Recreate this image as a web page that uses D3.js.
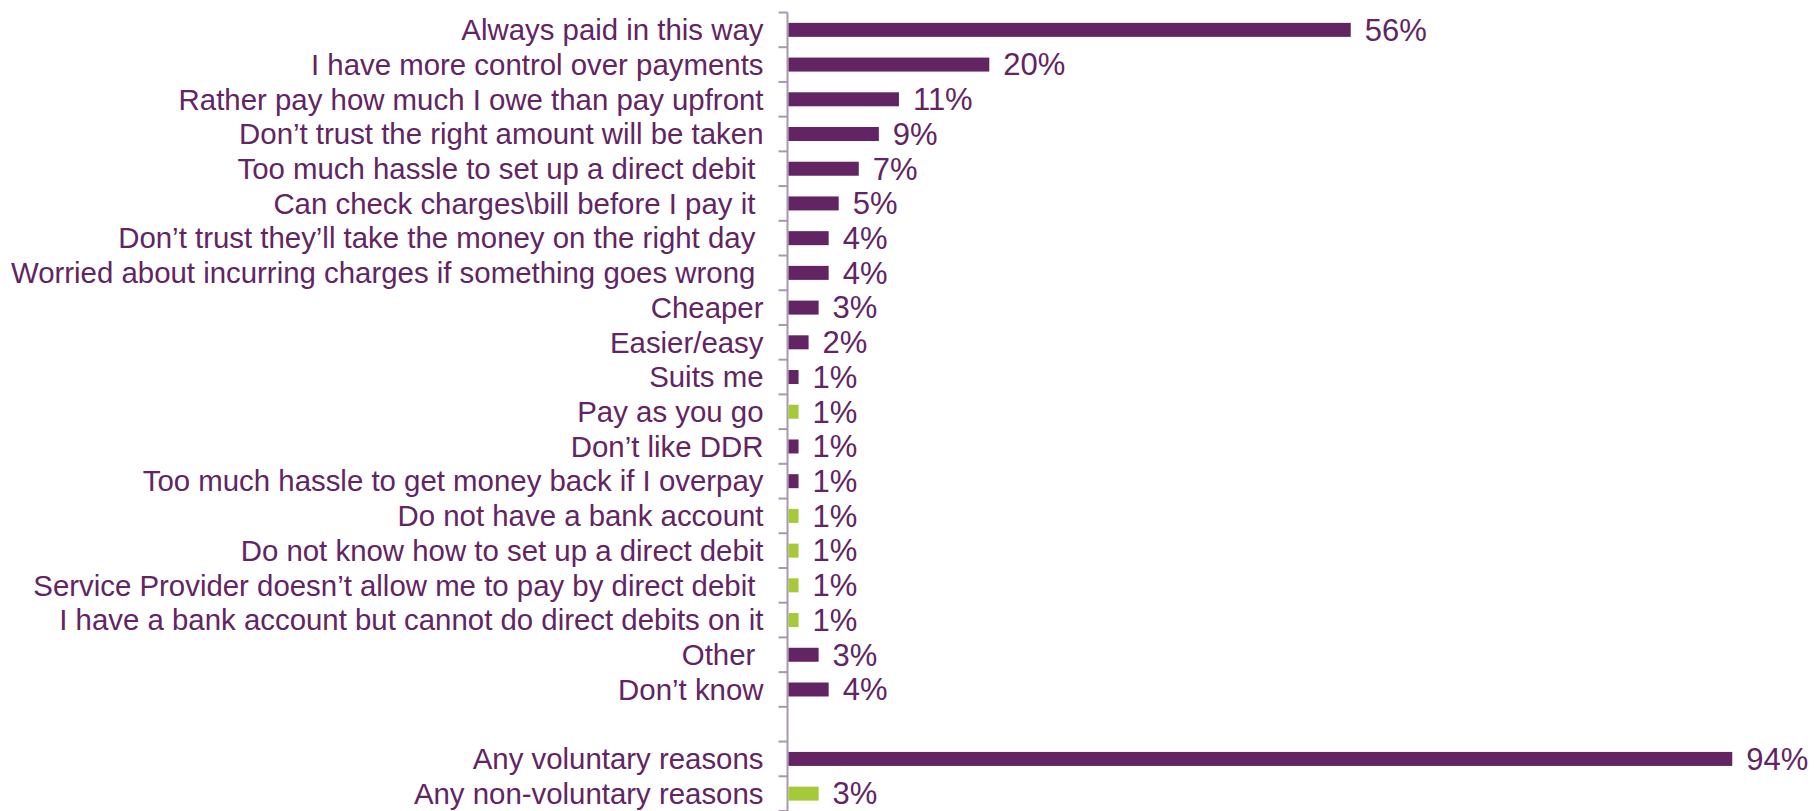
<!DOCTYPE html>
<html>
<head>
<meta charset="utf-8">
<script src="https://cdn.jsdelivr.net/npm/d3@7"></script>
<style>
  html, body { margin: 0; padding: 0; background: #ffffff; }
  svg text { font-family: "Liberation Sans", Arial, sans-serif; white-space: pre; }
</style>
</head>
<body>
<svg id="chart" width="1814" height="811"></svg>
<script>
// Reasons for not paying by direct debit (% of respondents)
const categories = [
  "Always paid in this way",
  "I have more control over payments",
  "Rather pay how much I owe than pay upfront",
  "Don\u2019t trust the right amount will be taken",
  "Too much hassle to set up a direct debit ",
  "Can check charges\\bill before I pay it ",
  "Don\u2019t trust they\u2019ll take the money on the right day ",
  "Worried about incurring charges if something goes wrong ",
  "Cheaper",
  "Easier/easy",
  "Suits me",
  "Pay as you go",
  "Don\u2019t like DDR",
  "Too much hassle to get money back if I overpay",
  "Do not have a bank account",
  "Do not know how to set up a direct debit",
  "Service Provider doesn\u2019t allow me to pay by direct debit ",
  "I have a bank account but cannot do direct debits on it",
  "Other ",
  "Don\u2019t know",
  "",
  "Any voluntary reasons",
  "Any non-voluntary reasons"
];
const values = [56, 20, 11, 9, 7, 5, 4, 4, 3, 2, 1, 1, 1, 1, 1, 1, 1, 1, 3, 4, null, 94, 3];
// "v" = voluntary reason, "n" = non-voluntary reason
const reasonType = ["v","v","v","v","v","v","v","v","v","v","v","n","v","v","n","n","n","n","v","v","", "v","n"];

const purple = "#622462";
const green = "#a6c93a";
const axisColor = "#a898b0";
const labelSize = 29.4;
const valueSize = 31;

const svg = d3.select("#chart");
const axisX = 787.5;

// one slot per row; ticks sit on slot boundaries
const y = d3.scaleBand()
  .domain(d3.range(categories.length))
  .range([12.5, 811])
  .padding(0);

const x = d3.scaleLinear().domain([0, 100]).range([axisX + 1, axisX + 1 + 1004]);

const barH = 14;
const slotCenter = i => y(i) + y.bandwidth() / 2;
const boundaries = d3.range(categories.length + 1).map(i => 12.5 + i * y.step());

svg.append("line")
  .attr("x1", axisX).attr("x2", axisX)
  .attr("y1", 12.5).attr("y2", 811)
  .attr("stroke", axisColor).attr("stroke-width", 2);

svg.selectAll("line.tick")
  .data(boundaries)
  .join("line")
  .attr("class", "tick")
  .attr("x1", axisX - 9).attr("x2", axisX)
  .attr("y1", d => d).attr("y2", d => d)
  .attr("stroke", axisColor).attr("stroke-width", 2);

const rows = d3.range(categories.length);

// category labels
svg.selectAll("text.cat")
  .data(rows)
  .join("text")
  .attr("class", "cat")
  .attr("x", axisX - 24)
  .attr("y", i => slotCenter(i))
  .attr("dy", "0.35em")
  .attr("text-anchor", "end")
  .attr("font-size", labelSize)
  .attr("fill", purple)
  .text(i => categories[i]);

const barRows = rows.filter(i => values[i] != null);

// bars
svg.selectAll("rect.bar")
  .data(barRows)
  .join("rect")
  .attr("class", "bar")
  .attr("x", x(0))
  .attr("y", i => slotCenter(i) - barH / 2)
  .attr("width", i => x(values[i]) - x(0))
  .attr("height", barH)
  .attr("fill", i => reasonType[i] === "n" ? green : purple);

// value labels
svg.selectAll("text.val")
  .data(barRows)
  .join("text")
  .attr("class", "val")
  .attr("x", i => x(values[i]) + 14)
  .attr("y", i => slotCenter(i))
  .attr("dy", "0.35em")
  .attr("font-size", valueSize)
  .attr("fill", purple)
  .text(i => values[i] + "%");
</script>
</body>
</html>
